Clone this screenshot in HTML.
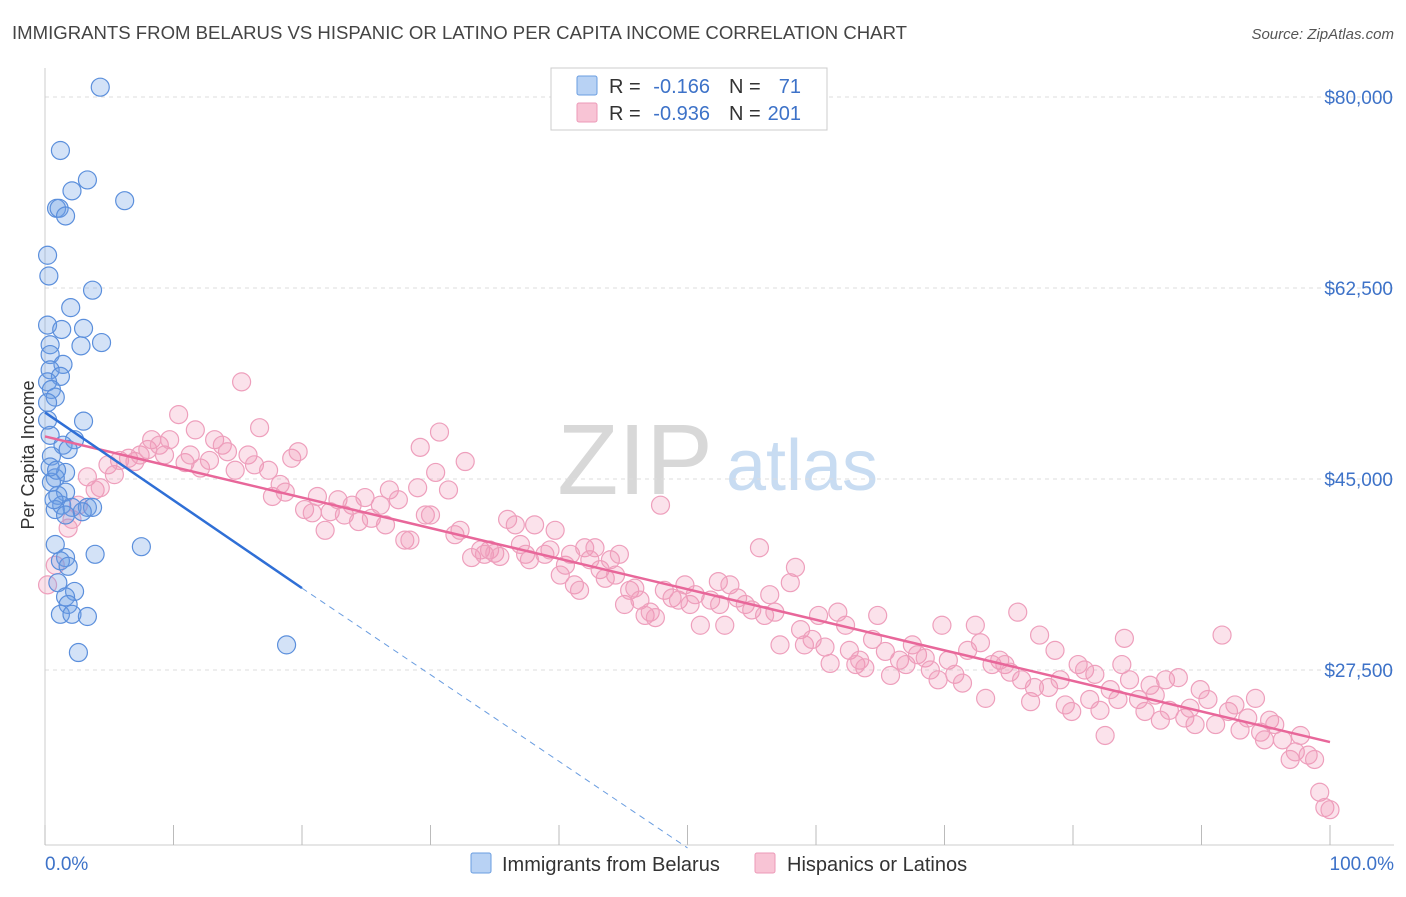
<!DOCTYPE html>
<html><head><meta charset="utf-8"><style>
body{margin:0;background:#fff;font-family:"Liberation Sans",sans-serif;}
svg text{font-family:"Liberation Sans",sans-serif;}
</style></head><body>
<svg id="chart" width="1406" height="892" viewBox="0 0 1406 892" xmlns="http://www.w3.org/2000/svg">
<text x="12" y="39" font-size="18" fill="#444" textLength="895" lengthAdjust="spacingAndGlyphs">IMMIGRANTS FROM BELARUS VS HISPANIC OR LATINO PER CAPITA INCOME CORRELATION CHART</text>
<text x="1394" y="39" font-size="15" fill="#555" text-anchor="end" font-style="italic">Source: ZipAtlas.com</text>
<text transform="translate(34,455) rotate(-90)" font-size="18" fill="#333" text-anchor="middle">Per Capita Income</text>
<g>
<text x="635" y="494" font-size="100" fill="#d8d8d8" text-anchor="middle" font-family="Liberation Serif">ZIP</text>
<text x="802" y="490" font-size="72" fill="#c8dcf2" text-anchor="middle">atlas</text>
</g>
<g id="grid"></g><g id="axes"></g><g id="pts"></g><g id="lines"></g>
<g>
<rect x="551" y="68" width="276" height="62" fill="#fff" stroke="#ccc"/>
<rect x="577" y="76" width="20" height="19" fill="#b8d2f4" stroke="#6a9de0" rx="2"/>
<rect x="577" y="103" width="20" height="19" fill="#f8c4d5" stroke="#ec9ab8" rx="2"/>
<text x="609" y="93" font-size="20" fill="#333">R =</text>
<text x="710" y="93" font-size="20" fill="#3d72c8" text-anchor="end">-0.166</text>
<text x="729" y="93" font-size="20" fill="#333">N =</text>
<text x="801" y="93" font-size="20" fill="#3d72c8" text-anchor="end">71</text>
<text x="609" y="120" font-size="20" fill="#333">R =</text>
<text x="710" y="120" font-size="20" fill="#3d72c8" text-anchor="end">-0.936</text>
<text x="729" y="120" font-size="20" fill="#333">N =</text>
<text x="801" y="120" font-size="20" fill="#3d72c8" text-anchor="end">201</text>
</g>
<g>
<rect x="471" y="853" width="20" height="20" fill="#b8d2f4" stroke="#6a9de0" rx="2"/>
<text x="502" y="871" font-size="20" fill="#333">Immigrants from Belarus</text>
<rect x="755" y="853" width="20" height="20" fill="#f8c4d5" stroke="#ec9ab8" rx="2"/>
<text x="787" y="871" font-size="20" fill="#333">Hispanics or Latinos</text>
</g>
</svg>
<script>
const yTicks=[80000,62500,45000,27500];
const yTickLabels=["$80,000","$62,500","$45,000","$27,500"];
const xTickVals=[0,10,20,30,40,50,60,70,80,90,100];
const xEndLabels=["0.0%","100.0%"];
const blueData=[[4.3,80.9],[1.2,75.1],[3.3,72.4],[2.1,71.4],[6.2,70.5],[0.9,69.8],[1.1,69.8],[1.6,69.1],[0.2,65.5],[0.3,63.6],[3.7,62.3],[2.0,60.7],[0.2,59.1],[1.3,58.7],[3.0,58.8],[2.8,57.2],[4.4,57.5],[0.4,57.3],[0.4,56.4],[1.4,55.5],[0.4,55.0],[1.2,54.4],[0.2,53.9],[0.5,53.2],[0.8,52.5],[0.2,52.0],[3.0,50.3],[0.4,49.0],[2.3,48.6],[1.4,48.1],[1.8,47.7],[0.5,47.1],[1.6,45.6],[0.8,45.1],[0.5,44.7],[1.6,43.8],[1.0,43.5],[1.3,42.6],[2.1,42.4],[0.8,42.2],[3.3,42.4],[3.7,42.4],[1.6,41.7],[2.9,42.0],[0.8,39.0],[3.9,38.1],[7.5,38.8],[1.6,37.8],[1.2,37.5],[1.8,37.0],[1.0,35.5],[2.3,34.7],[1.6,34.2],[1.8,33.5],[1.2,32.6],[2.1,32.6],[3.3,32.4],[2.6,29.1],[18.8,29.8],[0.2,50.4],[0.4,46.1],[0.7,43.1],[0.9,45.8]];
const pinkData=[[0.2,35.3],[0.8,37.1],[1.8,40.5],[2.1,41.3],[2.6,42.6],[3.3,45.2],[3.9,44.0],[4.3,44.2],[4.9,46.3],[5.4,45.4],[5.8,46.7],[6.5,46.9],[7.0,46.6],[7.4,47.2],[8.0,47.7],[8.3,48.6],[8.9,48.1],[9.3,47.2],[9.7,48.6],[10.4,50.9],[10.9,46.5],[11.3,47.2],[11.7,49.5],[12.1,46.0],[12.8,46.7],[13.2,48.6],[13.8,48.1],[14.2,47.5],[14.8,45.8],[15.3,53.9],[15.8,47.2],[16.3,46.3],[16.7,49.7],[17.4,45.8],[17.7,43.4],[18.3,44.5],[18.7,43.8],[19.2,46.9],[19.7,47.5],[20.2,42.2],[20.8,41.9],[21.2,43.4],[21.8,40.3],[22.2,42.0],[22.8,43.1],[23.3,41.7],[23.9,42.6],[24.4,41.1],[24.9,43.3],[25.4,41.4],[26.1,42.6],[26.5,40.8],[26.8,44.0],[27.5,43.1],[28.0,39.4],[28.4,39.4],[29.0,44.2],[29.2,47.9],[29.6,41.7],[30.0,41.7],[30.4,45.6],[30.7,49.3],[31.4,44.0],[31.9,39.9],[32.3,40.3],[32.7,46.6],[33.2,37.8],[33.9,38.5],[34.2,38.1],[34.6,38.5],[35.0,38.2],[35.4,37.9],[36.0,41.3],[36.6,40.8],[37.0,39.0],[37.4,38.1],[37.7,37.6],[38.1,40.8],[38.9,38.1],[39.3,38.5],[39.7,40.3],[40.1,36.2],[40.5,37.1],[40.9,38.1],[41.2,35.3],[41.6,34.8],[42.0,38.7],[42.4,37.6],[42.8,38.7],[43.2,36.7],[43.6,35.9],[44.0,37.6],[44.4,36.2],[44.7,38.1],[45.1,33.5],[45.5,34.8],[45.9,35.0],[46.3,33.9],[46.7,32.5],[47.1,32.8],[47.5,32.3],[47.9,42.6],[48.2,34.8],[48.8,34.1],[49.3,33.9],[49.8,35.3],[50.2,33.5],[50.6,34.4],[51.0,31.6],[51.8,33.9],[52.4,35.6],[52.5,33.5],[52.9,31.6],[53.3,35.3],[53.9,34.1],[54.5,33.5],[55.0,33.0],[55.6,38.7],[56.0,32.5],[56.4,34.4],[56.8,32.8],[57.2,29.8],[58.0,35.5],[58.4,36.9],[58.8,31.2],[59.1,29.8],[59.7,30.3],[60.2,32.5],[60.7,29.6],[61.1,28.1],[61.7,32.8],[62.3,31.6],[62.6,29.3],[63.1,28.0],[63.4,28.4],[63.8,27.7],[64.4,30.3],[64.8,32.5],[65.4,29.2],[65.8,27.0],[66.5,28.4],[67.0,28.0],[67.5,29.8],[67.9,28.9],[68.5,28.6],[68.9,27.5],[69.5,26.6],[69.8,31.6],[70.3,28.4],[70.8,27.1],[71.4,26.3],[71.8,29.3],[72.4,31.6],[72.8,30.0],[73.2,24.9],[73.7,28.0],[74.3,28.4],[74.7,28.0],[75.1,27.3],[75.7,32.8],[76.0,26.6],[76.7,24.6],[77.0,25.9],[77.4,30.7],[78.1,25.9],[78.6,29.3],[79.0,26.6],[79.4,24.3],[79.9,23.7],[80.4,28.0],[80.9,27.5],[81.3,24.8],[81.7,27.1],[82.1,23.8],[82.5,21.5],[82.9,25.7],[83.5,24.8],[83.8,28.0],[84.0,30.4],[84.4,26.6],[85.1,24.8],[85.6,23.7],[86.0,26.1],[86.4,25.2],[86.8,22.9],[87.2,26.6],[87.5,23.8],[88.2,26.8],[88.7,23.1],[89.1,24.0],[89.5,22.5],[89.9,25.7],[90.5,24.8],[91.1,22.5],[91.6,30.7],[92.1,23.7],[92.6,24.3],[93.0,22.0],[93.6,23.1],[94.2,24.9],[94.6,21.8],[94.9,21.1],[95.3,22.9],[95.7,22.5],[96.3,21.1],[96.9,19.3],[97.3,20.0],[97.7,21.5],[98.3,19.7],[98.8,19.3],[99.2,16.3],[99.6,14.9],[100,14.7]];
const blueFit=[[0,51.1],[20,35.0],[50,11.2]];
const pinkFit=[[0,48.9],[100,20.9]];

const NS="http://www.w3.org/2000/svg";
const X0=45,X1=1330,Y80=97,PX_PER_K=191/17.5;
function sx(p){return X0+(X1-X0)*p/100;}
function sy(k){return Y80+(80-k)*PX_PER_K;}
function mk(tag,attrs,parent){const e=document.createElementNS(NS,tag);for(const k in attrs)e.setAttribute(k,attrs[k]);parent.appendChild(e);return e;}
const grid=document.getElementById('grid'),axes=document.getElementById('axes'),pts=document.getElementById('pts'),lines=document.getElementById('lines');
yTicks.forEach((v,i)=>{
  const y=sy(v/1000);
  const l=mk('line',{x1:45,x2:1394,y1:y,y2:y,stroke:'#ddd','stroke-dasharray':'4,4'},grid);
  
  
  const t=mk('text',{x:1393,y:y+7,'font-size':19,fill:'#3d72c8','text-anchor':'end'},axes);
  t.textContent=yTickLabels[i];
  
  
});
const ax=mk('line',{x1:45,x2:45,y1:68,y2:845,stroke:'#ccc'},axes);


const bx=mk('line',{x1:45,x2:1394,y1:845,y2:845,stroke:'#ccc'},axes);


xTickVals.forEach(v=>{
  const x=sx(v);
  const t=mk('line',{x1:x,x2:x,y1:825,y2:845,stroke:'#bbb'},axes);
  
  
});
[[0,'start',45],[100,'end',1394]].forEach((d,i)=>{
  const t=mk('text',{x:d[2],y:870,'font-size':19,fill:'#3d72c8','text-anchor':d[1]},axes);
  t.textContent=xEndLabels[i];
  
  
});
pinkData.forEach(d=>{
  const c=mk('circle',{cx:sx(d[0]),cy:sy(d[1]),r:9,fill:'rgba(242,150,182,0.28)',stroke:'#ee9fbc','stroke-width':1.2},pts);
  
  
});
blueData.forEach(d=>{
  const c=mk('circle',{cx:sx(d[0]),cy:sy(d[1]),r:9,fill:'rgba(110,160,230,0.3)',stroke:'#5b8fdc','stroke-width':1.2},pts);
  
  
});
const pl=mk('line',{x1:sx(pinkFit[0][0]),y1:sy(pinkFit[0][1]),x2:sx(pinkFit[1][0]),y2:sy(pinkFit[1][1]),stroke:'#e8679a','stroke-width':2.5},lines);


const bl=mk('line',{x1:sx(blueFit[0][0]),y1:sy(blueFit[0][1]),x2:sx(blueFit[1][0]),y2:sy(blueFit[1][1]),stroke:'#2f6fd6','stroke-width':2.5},lines);


const bd=mk('line',{x1:sx(blueFit[1][0]),y1:sy(blueFit[1][1]),x2:sx(blueFit[2][0]),y2:sy(blueFit[2][1]),stroke:'#6a9de0','stroke-width':1,'stroke-dasharray':'6,5'},lines);


</script>
</body></html>
